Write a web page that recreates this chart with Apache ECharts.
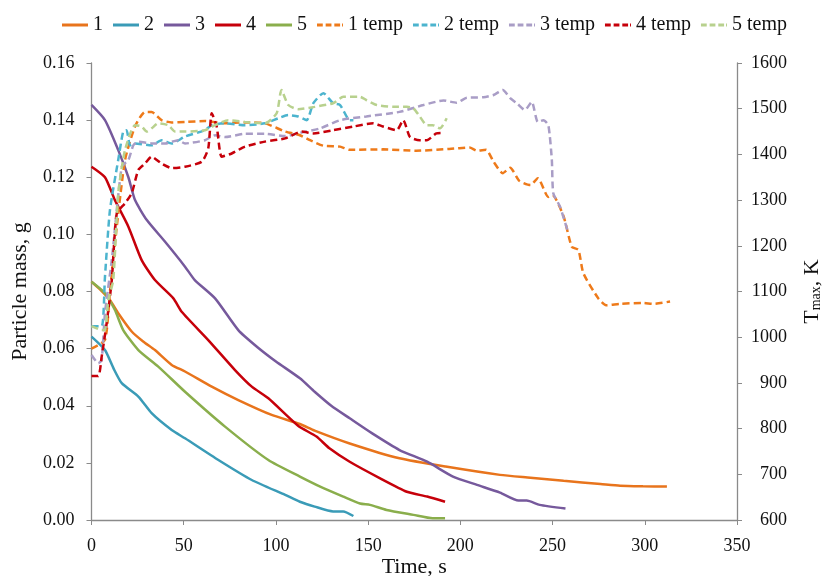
<!DOCTYPE html>
<html><head><meta charset="utf-8">
<script src="https://cdn.jsdelivr.net/npm/echarts@6/dist/echarts.min.js"></script>
<style>html,body{margin:0;padding:0;background:#fff}#c{width:825px;height:576px}</style>
</head><body><div id="c"></div>
<script>
// ---- mass series (left axis, g) ----
const tm1 = [0, 5, 10, 14.5, 21.8, 28, 34.4, 43.5, 50.7, 65.2, 79.6, 97.7, 113, 121, 140, 167, 192, 221.5, 238, 256, 276, 286.6, 299, 312];
const m1  = [0.0834, 0.0805, 0.077, 0.0724, 0.066, 0.0625, 0.0595, 0.0543, 0.052, 0.0467, 0.042, 0.0368, 0.0336, 0.0313, 0.0268, 0.0216, 0.0187, 0.0158, 0.0148, 0.0137, 0.0126, 0.012, 0.0118, 0.0117];
const tm2 = [0, 7.3, 12, 16.4, 25.4, 32.6, 43.5, 50.7, 68.8, 86.9, 105, 113, 121, 131, 136.5, 142];
const m2  = [0.0642, 0.0595, 0.053, 0.0479, 0.0432, 0.0374, 0.0315, 0.0286, 0.021, 0.014, 0.0088, 0.0064, 0.0047, 0.003, 0.003, 0.0014];
const tm3 = [0, 7.3, 14.5, 20, 23.6, 30, 39.9, 50.7, 56, 67, 79.6, 90, 100, 113, 121, 130, 140, 152, 167, 182, 196, 209, 221.5, 231.5, 236, 243, 257];
const m3  = [0.1453, 0.140, 0.1295, 0.120, 0.112, 0.105, 0.0974, 0.0887, 0.084, 0.0776, 0.0665, 0.0605, 0.0555, 0.0496, 0.0449, 0.040, 0.0356, 0.0304, 0.0245, 0.0204, 0.0152, 0.0123, 0.0096, 0.0068, 0.0068, 0.0053, 0.004];
const tm4 = [0, 7.3, 12.7, 20, 27.2, 34.4, 44.4, 48.9, 63.3, 77.8, 86.9, 95.9, 112, 122, 129, 140, 156.5, 171, 182, 191.7];
const m4  = [0.1237, 0.120, 0.112, 0.1027, 0.091, 0.084, 0.0776, 0.0729, 0.063, 0.0525, 0.0467, 0.0426, 0.0330, 0.0292, 0.0251, 0.0204, 0.0146, 0.0099, 0.0082, 0.0064];
const tm5 = [0, 7.3, 12.7, 17.2, 25.4, 36.2, 50.7, 72.4, 95.9, 113, 124, 136.5, 145.6, 151, 160, 174.5, 185, 191.7];
const m5  = [0.0834, 0.0794, 0.0735, 0.0665, 0.0595, 0.0537, 0.0449, 0.0327, 0.021, 0.0152, 0.0117, 0.0082, 0.0058, 0.0053, 0.0035, 0.0018, 0.0006, 0.0006];

// ---- temperature series (right axis, K) ----
const tt1 = [0, 7.3, 10, 13.7, 18.2, 23.6, 29, 32.6, 38, 43.5, 50.7, 61.5, 72.4, 83.2, 94, 105, 113, 118.5, 125.7, 134.8, 140, 158, 176, 194, 205, 209, 214, 218, 223, 227, 232, 238, 242, 247.7, 250, 256, 260.4, 264, 266.7, 274.8, 279, 286.6, 299, 304.7, 313.7];
const T1  = [975, 994, 1100, 1242, 1388, 1461, 1493, 1493, 1475, 1470, 1471, 1473, 1468, 1470, 1468, 1450, 1442, 1431, 1419, 1417, 1410, 1411, 1408, 1412, 1415, 1408, 1410, 1384, 1359, 1371, 1342, 1333, 1348, 1307, 1311, 1264, 1198, 1191, 1140, 1085, 1070, 1073, 1075, 1073, 1078];
const tt2 = [0, 5.5, 7.3, 10, 14.5, 17.2, 19, 20.9, 23.6, 32.6, 38, 43.5, 50.7, 61.5, 65.2, 72.4, 83.2, 94, 101.3, 106.7, 112, 116.7, 120.3, 125.7, 131, 134.8, 140, 142];
const T2  = [1024, 1024, 1132, 1278, 1388, 1450, 1453, 1420, 1424, 1420, 1431, 1424, 1439, 1453, 1464, 1468, 1464, 1468, 1479, 1486, 1483, 1475, 1512, 1534, 1512, 1508, 1475, 1475];
const tt3 = [0, 3.7, 5.5, 7.3, 11, 16.4, 20, 22.7, 25.4, 32.6, 40, 47, 50.7, 61.5, 67, 72.4, 83.2, 94, 105, 113, 124, 134.8, 149, 167, 180, 190.8, 198, 203.5, 212.5, 218, 223, 227, 230.6, 235, 238.7, 242, 245, 247.7, 249.6, 250.4, 254, 258.6];
const T3  = [961, 943, 950, 1052, 1169, 1373, 1388, 1420, 1428, 1424, 1424, 1431, 1424, 1431, 1442, 1438, 1445, 1445, 1440, 1447, 1457, 1475, 1483, 1493, 1508, 1518, 1513, 1524, 1525, 1530, 1541, 1523, 1512, 1497, 1515, 1471, 1475, 1464, 1388, 1315, 1286, 1227];
const tt4 = [0, 3.7, 5.5, 8.2, 11, 13.7, 18.2, 21.8, 25.4, 29, 32.6, 38, 43.5, 50.7, 59.8, 63.3, 65.2, 67.9, 70.6, 76, 83.2, 94, 105, 114, 120.3, 131, 142, 152.8, 158, 165.5, 169, 172.7, 178, 181.8, 187, 190.8];
const T4  = [915, 915, 957, 1030, 1125, 1271, 1293, 1315, 1366, 1380, 1395, 1380, 1370, 1373, 1384, 1413, 1490, 1461, 1395, 1402, 1417, 1428, 1435, 1450, 1446, 1453, 1461, 1468, 1461, 1453, 1475, 1438, 1431, 1431, 1446, 1447];
const tt5 = [0, 5.5, 7.3, 9.1, 11.8, 14.5, 18.2, 23.6, 27.2, 30, 32.6, 36.2, 41.6, 45.3, 50.7, 61.5, 67, 74.2, 83.2, 94, 100.4, 103, 106.7, 112, 121, 131, 136.5, 145.6, 149, 154.7, 163.7, 171, 174.5, 178, 181.8, 185, 189, 192.6];
const T5  = [1024, 1016, 1016, 1081, 1125, 1315, 1410, 1464, 1461, 1450, 1457, 1468, 1464, 1450, 1450, 1453, 1464, 1475, 1471, 1468, 1490, 1541, 1508, 1499, 1504, 1512, 1526, 1526, 1519, 1508, 1504, 1504, 1501, 1483, 1464, 1464, 1457, 1479];

const seriesNames = ['1', '2', '3', '4', '5', '1 temp', '2 temp', '3 temp', '4 temp', '5 temp'];
const xTicks = [0, 50, 100, 150, 200, 250, 300, 350];

const zip = (a, b) => a.map((v, i) => [v, b[i]]);
const FONT = 'Liberation Serif';
const axisGrey = '#8a8a8a';
const SOLID_ICON = 'path://M0,0H26V3H0Z';
const DASH_ICON = 'path://M0,0H6V3H0Z M9,0H15V3H9Z M18,0H24V3H18Z M27,0H26V3H27Z';

const defs = [
  [tm1, m1, '#E8741C', 0, 'solid'],
  [tm2, m2, '#3A9BB7', 0, 'solid'],
  [tm3, m3, '#76599C', 0, 'solid'],
  [tm4, m4, '#C6000A', 0, 'solid'],
  [tm5, m5, '#8AAE4C', 0, 'solid'],
  [tt1, T1, '#EE7A1A', 1, 'dashed'],
  [tt2, T2, '#4CB4CE', 1, 'dashed'],
  [tt3, T3, '#A99DC6', 1, 'dashed'],
  [tt4, T4, '#C6000A', 1, 'dashed'],
  [tt5, T5, '#B8D18E', 1, 'dashed']
];

const series = defs.map((d, i) => ({
  name: seriesNames[i],
  type: 'line',
  yAxisIndex: d[3],
  data: zip(d[0], d[1]),
  symbol: 'none',
  showSymbol: false,
  smooth: 0.2,
  z: d[3] === 1 ? 3 : 2,
  lineStyle: { color: d[2], width: 2.5, type: d[4] === 'dashed' ? [7, 4] : 'solid' },
  itemStyle: { color: d[2] },
  emphasis: { disabled: true }
}));

const chart = echarts.init(document.getElementById('c'), null, { renderer: 'canvas' });
chart.setOption({
  animation: false,
  backgroundColor: '#fff',
  textStyle: { fontFamily: FONT },
  legend: {
    top: 10, left: 57,
    itemWidth: 26, itemHeight: 3, itemGap: 10,
    textStyle: { fontFamily: FONT, fontSize: 20, color: '#111' },
    data: defs.map((d, i) => ({ name: seriesNames[i], icon: d[4] === 'dashed' ? DASH_ICON : SOLID_ICON, itemStyle: { color: d[2] } }))
  },
  grid: { left: 91.5, right: 88, top: 63, bottom: 56, containLabel: false, outerBoundsMode: 'none' },
  xAxis: {
    type: 'value', min: 0, max: 350, interval: 50,
    name: 'Time, s', nameLocation: 'middle', nameGap: 36, nameMoveOverlap: false,
    nameTextStyle: { fontFamily: FONT, fontSize: 22, color: '#111' },
    axisLine: { show: true, lineStyle: { color: axisGrey, width: 1.3 } },
    axisTick: { show: true, length: 5, lineStyle: { color: axisGrey } },
    axisLabel: { fontFamily: FONT, fontSize: 18, color: '#111', margin: 17,
      formatter: v => xTicks.includes(v) ? String(v) : '' },
    splitLine: { show: false }
  },
  yAxis: [{
    type: 'value', min: 0, max: 0.16, interval: 0.02, position: 'left',
    name: 'Particle mass, g', nameLocation: 'middle', nameGap: 60, nameRotate: 90,
    nameTextStyle: { fontFamily: FONT, fontSize: 22, color: '#111' },
    axisLine: { show: true, lineStyle: { color: axisGrey, width: 1.3 } },
    axisTick: { show: true, length: 5, lineStyle: { color: axisGrey } },
    axisLabel: { fontFamily: FONT, fontSize: 18, color: '#111', margin: 17, formatter: v => v.toFixed(2) },
    splitLine: { show: false }
  }, {
    type: 'value', min: 600, max: 1600, interval: 100, position: 'right',
    name: 'T{sub|max}, K', nameLocation: 'middle', nameGap: 64, nameRotate: 90,
    nameTextStyle: { fontFamily: FONT, fontSize: 22, color: '#111',
      rich: { sub: { fontFamily: FONT, fontSize: 14, color: '#111', verticalAlign: 'bottom', padding: [8, 0, 0, 0] } } },
    axisLine: { show: true, lineStyle: { color: axisGrey, width: 1.3 } },
    axisTick: { show: true, length: 5, lineStyle: { color: axisGrey } },
    axisLabel: { fontFamily: FONT, fontSize: 18, color: '#111', margin: 50, align: 'right', formatter: v => String(v) },
    splitLine: { show: false }
  }],
  series: series
});
</script>
</body></html>
